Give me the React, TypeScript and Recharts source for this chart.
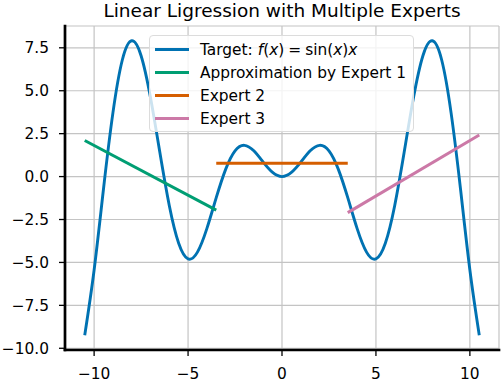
import { LineChart, Line, XAxis, YAxis, CartesianGrid, Legend } from 'recharts';

// target curve samples
const targetX = [
  -10.5, -10, -9.5, -9, -8.5, -8, -7.5, -7, -6.5, -6, -5.5, -5, -4.5, -4, -3.5, -3, -2.5, -2, -1.5, -1, -0.5,
  0, 0.5, 1, 1.5, 2, 2.5, 3, 3.5, 4, 4.5, 5, 5.5, 6, 6.5, 7, 7.5, 8, 8.5, 9, 9.5, 10, 10.5,
];
const targetY = [
  -9.24, -5.44, -0.71, 3.71, 6.79, 7.91, 7.04, 4.6, 1.4, -1.68, -3.88, -4.79, -4.4, -3.03, -1.23, 0.42, 1.5, 1.82, 1.5, 0.84, 0.24,
  0, 0.24, 0.84, 1.5, 1.82, 1.5, 0.42, -1.23, -3.03, -4.4, -4.79, -3.88, -1.68, 1.4, 4.6, 7.04, 7.91, 6.79, 3.71, -0.71, -5.44, -9.24,
];

// expert fits: endpoints of each straight segment
const expert1X = [-10.5, -3.5];
const expert1Y = [2.1, -1.95];
const expert2X = [-3.5, 3.5];
const expert2Y = [0.78, 0.78];
const expert3X = [3.5, 10.5];
const expert3Y = [-2.1, 2.42];

const xTicks = [-10, -5, 0, 5, 10];
const yTicks = [-10, -7.5, -5, -2.5, 0, 2.5, 5, 7.5];

const COLORS = ['#0072B2', '#009E73', '#D55E00', '#CC79A7'];
const names = ['Target', 'Approximation by Expert 1', 'Expert 2', 'Expert 3'];

const toPoints = (xs: number[], ys: number[]) => xs.map((x, i) => ({ x, y: ys[i] }));
const targetData = toPoints(targetX, targetY);
const e1Data = toPoints(expert1X, expert1Y);
const e2Data = toPoints(expert2X, expert2Y);
const e3Data = toPoints(expert3X, expert3Y);

const FONT = '"DejaVu Sans", sans-serif';
const minus = (s: string) => s.replace('-', '\u2212');
const fmtY = (v: number) => minus(v.toFixed(1));
const fmtX = (v: number) => minus(String(v));

const tickStyle = { fontFamily: FONT, fontSize: 15.4, fill: '#000' };
const spine = { stroke: '#000', strokeWidth: 2.7, strokeLinecap: 'square' as const };
const tickLine = { stroke: '#000', strokeWidth: 1.3 };

function TargetLabel() {
  return (
    <span>
      Target: <i>f</i>(<i>x</i>)<span style={{ margin: '0 4px' }}>=</span>sin(<i>x</i>)<i>x</i>
    </span>
  );
}

function renderLegend() {
  return (
    <div
      style={{
        boxSizing: 'border-box',
        width: 265,
        height: 97,
        paddingTop: 2,
        paddingLeft: 5,
        border: '1px solid #dcdcdc',
        borderRadius: 4,
        background: 'rgba(255,255,255,0.8)',
        fontFamily: FONT,
        fontSize: 15.4,
        color: '#000',
      }}
    >
      {names.map((name, i) => (
        <div key={name} style={{ display: 'flex', alignItems: 'center', height: 23 }}>
          <div style={{ width: 34, height: 3, background: COLORS[i], marginRight: 11 }} />
          <div style={{ whiteSpace: 'nowrap' }}>{i === 0 ? <TargetLabel /> : name}</div>
        </div>
      ))}
    </div>
  );
}

export default function App() {
  return (
    <div style={{ position: 'absolute', left: 0, top: 0, width: 502, height: 382, background: '#fff' }}>
      <div
        style={{
          position: 'absolute',
          left: 65,
          width: 434,
          top: -0.5,
          textAlign: 'center',
          fontFamily: FONT,
          fontSize: 18.5,
          lineHeight: '22px',
          color: '#000',
        }}
      >
        Linear Ligression with Multiple Experts
      </div>
      <LineChart width={502} height={382} margin={{ top: 26, right: 3, bottom: 0, left: 0 }}>
        <CartesianGrid stroke="#c4c4c4" strokeWidth={1.2} />
        <XAxis
          dataKey="x"
          type="number"
          domain={[-11.55, 11.55]}
          allowDataOverflow
          ticks={xTicks}
          interval={0}
          tickFormatter={fmtX}
          height={32}
          tickSize={6}
          tickMargin={12}
          tick={tickStyle}
          axisLine={spine}
          tickLine={tickLine}
        />
        <XAxis
          xAxisId="top"
          orientation="top"
          dataKey="x"
          type="number"
          domain={[-11.55, 11.55]}
          allowDataOverflow
          height={0}
          tick={false}
          tickLine={false}
          axisLine={spine}
        />
        <YAxis
          type="number"
          domain={[-10.1, 8.77]}
          allowDataOverflow
          ticks={yTicks}
          interval={0}
          tickFormatter={fmtY}
          width={65}
          tickSize={6}
          tickMargin={10}
          tick={tickStyle}
          axisLine={spine}
          tickLine={tickLine}
        />
        <YAxis
          yAxisId="right"
          orientation="right"
          type="number"
          domain={[-10.1, 8.77]}
          allowDataOverflow
          width={0}
          tick={false}
          tickLine={false}
          axisLine={spine}
        />
        <Line data={targetData} dataKey="y" name={names[0]} type="natural" stroke={COLORS[0]} strokeWidth={2.9} dot={false} isAnimationActive={false} />
        <Line data={e1Data} dataKey="y" name={names[1]} type="linear" stroke={COLORS[1]} strokeWidth={3} dot={false} isAnimationActive={false} />
        <Line data={e2Data} dataKey="y" name={names[2]} type="linear" stroke={COLORS[2]} strokeWidth={3} dot={false} isAnimationActive={false} />
        <Line data={e3Data} dataKey="y" name={names[3]} type="linear" stroke={COLORS[3]} strokeWidth={3} dot={false} isAnimationActive={false} />
        <Legend
          layout="vertical"
          align="center"
          verticalAlign="middle"
          content={renderLegend}
          wrapperStyle={{ left: 149, top: 35, width: 265, height: 97 }}
        />
      </LineChart>
    </div>
  );
}
